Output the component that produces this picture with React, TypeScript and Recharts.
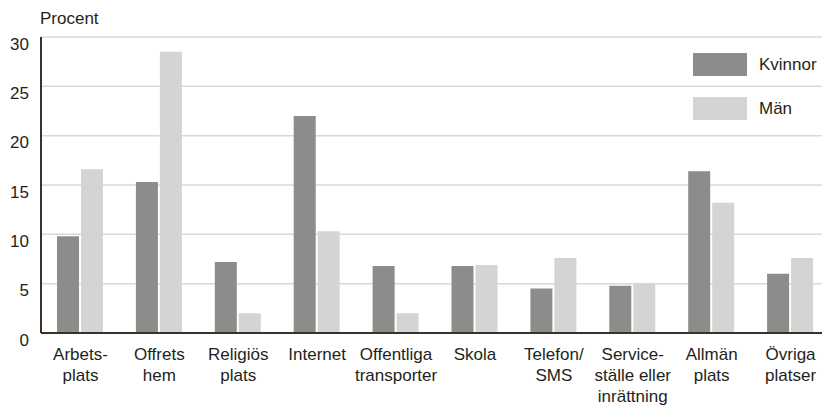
import { BarChart, Bar, XAxis, YAxis, CartesianGrid } from "recharts";

const categories = [
  "Arbets-\nplats",
  "Offrets\nhem",
  "Religiös\nplats",
  "Internet",
  "Offentliga\ntransporter",
  "Skola",
  "Telefon/\nSMS",
  "Service-\nställe eller\ninrättning",
  "Allmän\nplats",
  "Övriga\nplatser",
];
const kvinnor = [9.8, 15.3, 7.2, 22.0, 6.8, 6.8, 4.5, 4.8, 16.4, 6.0];
const man = [16.6, 28.5, 2.0, 10.3, 2.0, 6.9, 7.6, 5.0, 13.2, 7.6];
const yTicks = [0, 5, 10, 15, 20, 25, 30];

const data = categories.map((c, i) => ({ name: c, Kvinnor: kvinnor[i], Män: man[i] }));

const TEXT = "#231f20";
const AXIS = "#3c3027";
const FONT = "'Liberation Sans', Arial, Helvetica, sans-serif";

const XTick = ({ x, y, payload }: any) => {
  const lines = String(payload.value).split("\n");
  return (
    <text x={x} y={y} textAnchor="middle" fill={TEXT} fontSize={17} fontFamily={FONT}>
      {lines.map((l, i) => (
        <tspan key={i} x={x} dy={i === 0 ? 25 : 21}>
          {l}
        </tspan>
      ))}
    </text>
  );
};

// labels hang just below their grid line
const YTick = ({ y, payload }: any) => (
  <text x={29} y={y} dy={12.5} textAnchor="end" fill={TEXT} fontSize={17} fontFamily={FONT}>
    {payload.value}
  </text>
);

const legendItems = [
  ["Kvinnor", "#8c8c8a"],
  ["Män", "#d4d4d4"],
];

export default function App() {
  return (
    <div style={{ position: "absolute", left: 0, top: 0, width: 822, height: 408, overflow: "hidden", background: "#fff" }}>
      <div style={{ position: "absolute", left: 40, top: 9, fontFamily: FONT, fontSize: 17, lineHeight: "20px", color: TEXT }}>
        Procent
      </div>
      <BarChart
        width={840}
        height={408}
        data={data}
        margin={{ top: 37, right: 10, bottom: 0, left: 0 }}
        barCategoryGap={16}
        barGap={2}
      >
        <CartesianGrid vertical={false} stroke="#d8d8d8" strokeWidth={1.5} />
        <XAxis
          dataKey="name"
          interval={0}
          height={75}
          tickLine={false}
          tickSize={0}
          stroke={AXIS}
          strokeWidth={2}
          tick={<XTick />}
        />
        <YAxis
          width={41}
          domain={[0, 30]}
          ticks={yTicks}
          tickLine={false}
          stroke={AXIS}
          strokeWidth={2}
          tick={<YTick />}
        />
        <Bar dataKey="Kvinnor" fill="#8c8c8a" barSize={22} isAnimationActive={false} />
        <Bar dataKey="Män" fill="#d4d4d4" barSize={22} isAnimationActive={false} />
      </BarChart>
      <div style={{ position: "absolute", left: 693, top: 53, fontFamily: FONT, fontSize: 17, color: TEXT }}>
        {legendItems.map(([label, color], i) => (
          <div key={label} style={{ display: "flex", alignItems: "center", height: 23, marginBottom: i === 0 ? 21 : 0 }}>
            <div style={{ width: 54, height: 23, background: color, marginRight: 12 }} />
            <span>{label}</span>
          </div>
        ))}
      </div>
    </div>
  );
}
